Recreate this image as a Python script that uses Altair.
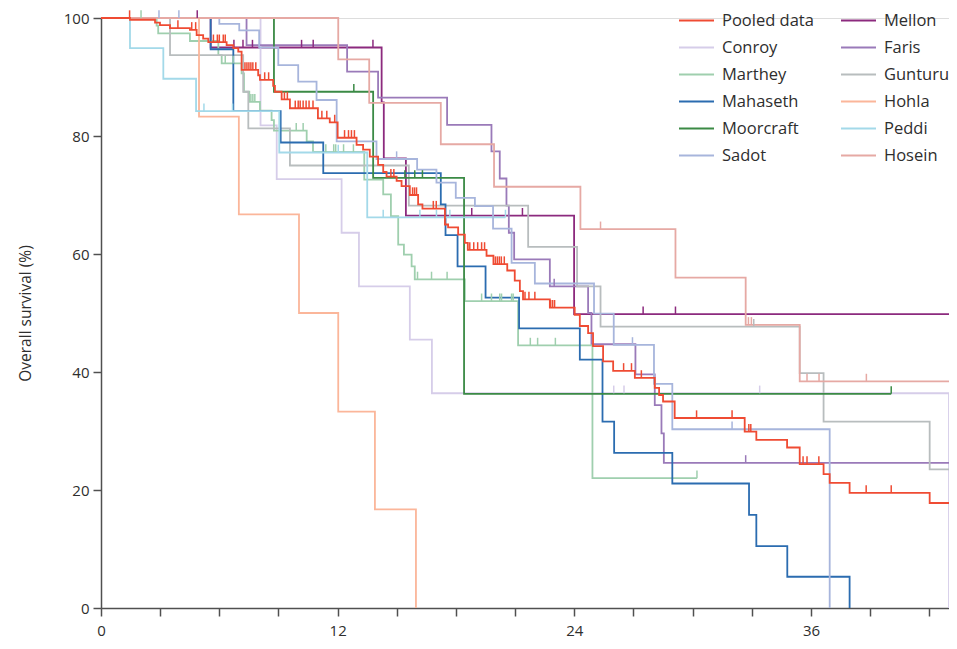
import altair as alt
import pandas as pd

# ---------------- data (months, overall survival %) ----------------
series_order = ["Pooled data", "Conroy", "Marthey", "Mahaseth", "Moorcraft", "Sadot",
                "Mellon", "Faris", "Gunturu", "Hohla", "Peddi", "Hosein"]
series_colors = ["#ef4b33", "#d6cde9", "#9fcfae", "#2b6cb0", "#3b8a45", "#a7b5dc",
                 "#8c2a7e", "#9a7ab9", "#b8bdbe", "#fbb69a", "#a3d9e9", "#e6a9a4"]

pooled_steps = [(0, 100), (1.47, 99.7), (2.74, 99.2), (2.99, 98.8), (3.5, 98.3), (4.51, 98.0),
                (4.85, 97.1), (5.18, 96.5), (5.44, 95.9), (6.37, 95.4), (6.71, 94.9), (6.96, 94.3),
                (7.13, 91.2), (7.97, 90.3), (8.06, 89.5), (8.73, 88.5), (8.82, 87.5), (9.16, 86.2),
                (9.58, 84.7), (11.0, 83.0), (11.6, 82.3), (12.0, 79.7), (12.96, 78.5), (13.29, 77.7),
                (13.63, 76.5), (14.05, 75.1), (14.31, 73.9), (14.48, 73.1), (14.99, 72.4),
                (15.24, 71.5), (15.66, 70.0), (16.08, 68.4), (16.3, 67.7), (17.44, 65.0),
                (17.6, 64.5), (18.11, 63.3), (18.45, 61.9), (18.6, 60.7), (19.55, 59.7),
                (19.9, 58.3), (20.6, 57.2), (20.98, 55.5), (21.24, 53.7), (21.4, 52.3),
                (22.76, 50.9), (24.02, 49.7), (24.28, 47.8), (24.7, 46.6), (24.95, 44.4),
                (25.46, 41.8), (25.97, 40.2), (27.07, 39.0), (28.08, 37.3), (28.3, 36.1),
                (28.5, 35.0), (29.09, 32.2), (32.64, 29.9), (33.23, 28.5), (34.79, 27.2),
                (35.43, 24.4), (36.64, 22.7), (36.95, 21.2), (37.96, 19.5), (42.02, 17.8), (43.0, 17.8)]
pooled_cens = [1.45, 3.9, 4.6, 4.8, 5.7, 5.9, 6.0, 6.2, 6.3, 7.3, 7.4, 7.5, 7.6, 7.7, 7.85, 8.3, 8.5,
               9.3, 9.45, 9.85, 10.0, 10.1, 10.25, 10.4, 10.55, 10.75, 11.2, 11.45, 11.85, 12.35,
               12.55, 12.7, 12.85, 14.7, 14.85, 15.8, 15.9, 16.0, 16.85, 17.0, 18.7, 18.9, 19.1,
               19.3, 19.45, 20.0, 20.1, 20.2, 20.3, 20.45, 21.5, 21.7, 22.0, 22.8, 22.9, 23.0,
               26.5, 26.9, 27.4, 30.2, 32.0, 32.85, 32.95, 35.6, 35.8, 36.4, 38.8, 40.07]

mellon_steps = [(0, 100), (5.56, 95.0), (14.23, 85.7), (14.34, 76.2), (15.46, 66.5),
                (23.99, 49.8), (43.0, 49.8)]
mellon_cens = [4.88, 6.74, 7.2, 7.68, 10.17, 10.76, 13.79, 18.8, 21.37, 27.49, 29.13]

conroy_steps = [(0, 100), (8.09, 81.8), (8.91, 72.7), (12.2, 63.6), (13.08, 54.5),
                (15.66, 45.5), (16.78, 36.4), (43.0, 0)]
conroy_cens = [26.0, 26.52, 33.4]

faris_steps = [(0, 100), (7.38, 95.4), (12.48, 90.9), (14.05, 86.5), (17.55, 81.9),
               (19.8, 77.4), (20.22, 72.8), (20.56, 68.2), (20.68, 63.6), (20.95, 59.1),
               (22.76, 54.5), (24.7, 50.0), (24.87, 44.7), (27.1, 39.6), (28.08, 34.4),
               (28.42, 29.6), (28.54, 24.6), (43.0, 24.6)]
faris_cens = [22.98, 32.69]

marthey_steps = [(0, 100), (2.82, 98.7), (2.9, 97.4), (4.51, 96.1), (5.95, 93.7), (6.12, 92.3),
                 (7.13, 90.6), (7.25, 87.5), (7.52, 85.8), (8.06, 84.3), (8.65, 82.7),
                 (8.77, 80.9), (10.43, 79.1), (10.75, 77.3), (13.35, 72.6), (14.31, 70.1),
                 (14.7, 66.4), (15.07, 61.6), (15.36, 59.9), (15.75, 57.9), (15.91, 55.7),
                 (18.45, 52.0), (21.15, 44.5), (24.92, 22.0), (30.22, 22.0)]
marthey_cens = [2.03, 6.3, 6.7, 7.6, 7.7, 7.8, 9.9, 10.25, 11.4, 11.8, 11.9, 12.3, 12.8,
                16.05, 16.76, 17.55, 19.3, 19.8, 20.22, 20.31, 20.82, 20.9, 21.77, 22.14,
                23.04, 30.22]

gunturu_steps = [(0, 100), (3.5, 93.7), (7.21, 87.5), (7.47, 81.3), (9.58, 75.0), (15.61, 68.2),
                 (21.66, 61.2), (24.14, 54.5), (25.33, 47.7), (35.43, 39.8), (36.64, 31.6),
                 (42.02, 23.5), (43.0, 23.5)]
gunturu_cens = [33.1]

mahaseth_steps = [(0, 100), (5.56, 94.7), (6.71, 84.2), (9.11, 78.9), (11.27, 73.7),
                  (17.23, 68.4), (17.47, 63.2), (18.08, 57.9), (19.5, 52.6), (21.2, 47.4),
                  (24.28, 42.1), (25.43, 31.6), (26.02, 26.3), (28.97, 21.1), (32.86, 15.8),
                  (33.23, 10.5), (34.8, 5.3), (37.96, 0)]
mahaseth_cens = []

hohla_steps = [(0, 100), (4.97, 83.3), (6.99, 66.7), (10.04, 50.0), (12.03, 33.3),
               (13.89, 16.7), (15.97, 0)]
hohla_cens = []

moorcraft_steps = [(0, 100), (8.77, 87.5), (13.8, 72.9), (18.41, 36.3), (40.07, 36.3)]
moorcraft_cens = [12.82, 15.41, 15.91, 16.3, 40.07]

peddi_steps = [(0, 100), (1.47, 94.9), (3.16, 89.7), (4.82, 84.2), (9.04, 77.2),
               (13.5, 66.2), (20.51, 66.2)]
peddi_cens = [5.22, 6.67, 12.03, 14.31, 16.17, 17.01, 17.69, 20.51]

sadot_steps = [(0, 100), (6.0, 99.0), (7.01, 97.9), (8.02, 95.0), (8.99, 92.0), (10.0, 89.2),
               (10.93, 86.1), (11.95, 79.1), (13.97, 76.1), (16.03, 74.3), (17.01, 72.1),
               (17.99, 69.5), (18.96, 68.1), (19.88, 64.3), (20.82, 58.5), (22.0, 55.0),
               (25.0, 49.9), (26.0, 44.6), (28.04, 38.0), (28.97, 30.3), (36.95, 0)]
sadot_cens = [2.94, 3.95, 14.99, 26.95, 32.0]

hosein_steps = [(0, 100), (12.03, 93.0), (13.6, 85.6), (17.23, 78.6), (19.93, 71.4),
                (24.31, 64.2), (29.13, 56.0), (32.69, 48.0), (35.43, 38.4), (43.0, 38.4)]
hosein_cens = [25.33, 32.83, 32.98, 35.8, 36.41, 38.81]

x_ticks = list(range(0, 43, 3))
y_ticks = [0, 20, 40, 60, 80, 100]

all_series = {
    "Pooled data": (pooled_steps, pooled_cens),
    "Mellon": (mellon_steps, mellon_cens),
    "Conroy": (conroy_steps, conroy_cens),
    "Faris": (faris_steps, faris_cens),
    "Marthey": (marthey_steps, marthey_cens),
    "Gunturu": (gunturu_steps, gunturu_cens),
    "Mahaseth": (mahaseth_steps, mahaseth_cens),
    "Hohla": (hohla_steps, hohla_cens),
    "Moorcraft": (moorcraft_steps, moorcraft_cens),
    "Peddi": (peddi_steps, peddi_cens),
    "Sadot": (sadot_steps, sadot_cens),
    "Hosein": (hosein_steps, hosein_cens),
}


def level_at(steps, t):
    v = steps[0][1]
    for tt, ss in steps:
        if tt <= t:
            v = ss
        else:
            break
    return v


line_rows, cens_rows = [], []
for name, (steps, cens) in all_series.items():
    for i, (t, s) in enumerate(steps):
        line_rows.append({"series": name, "t": t, "s": s, "o": i})
    for t in cens:
        cens_rows.append({"series": name, "t": t, "s": level_at(steps, t)})

lines_df = pd.DataFrame(line_rows)
cens_df = pd.DataFrame(cens_rows)

FONT = "Open Sans"
TXT = "#2e2e2e"
AX = "#505050"

color = alt.Color(
    "series:N",
    scale=alt.Scale(domain=series_order, range=series_colors),
    legend=alt.Legend(
        orient="none", legendX=577, legendY=-6, direction="vertical", columns=2,
        title=None, symbolType="stroke", symbolSize=1225, symbolStrokeWidth=2,
        labelFontSize=16.5, labelFont=FONT, labelColor=TXT, labelOffset=7,
        rowPadding=10, columnPadding=26, clipHeight=17, padding=0, labelLimit=0,
    ),
)

x_enc = alt.X(
    "t:Q",
    scale=alt.Scale(domain=[0, 43], nice=False, zero=True),
    axis=alt.Axis(
        values=x_ticks, labelExpr="datum.value % 12 === 0 ? datum.label : ''",
        title=None, grid=False, tickSize=8, tickWidth=1.5, tickColor=AX,
        domainColor=AX, domainWidth=1.5, labelFontSize=15, labelFont=FONT,
        labelColor=TXT, labelPadding=7, labelFlush=False,
    ),
)
y_enc = alt.Y(
    "s:Q",
    scale=alt.Scale(domain=[0, 100], nice=False),
    axis=alt.Axis(
        values=y_ticks, title="Overall survival (%)", grid=False, tickSize=8,
        tickWidth=1.5, tickColor=AX, domainColor=AX, domainWidth=1.5,
        labelFontSize=15, labelFont=FONT, labelColor=TXT, labelPadding=4,
        titleFont=FONT, titleFontSize=15.5, titleFontWeight="normal", titleColor=TXT,
        titlePadding=30,
    ),
)

base_line = alt.Chart(lines_df).mark_line(interpolate="step-after", strokeWidth=1.8).encode(
    x=x_enc, y=y_enc, color=color, order="o:Q", detail="series:N"
)
base_cens = alt.Chart(cens_df).transform_calculate(top="datum.s + 1.3").mark_rule(
    strokeWidth=1.5
).encode(x="t:Q", y="s:Q", y2="top:Q", color=color)

others = alt.datum.series != "Pooled data"
pooled = alt.datum.series == "Pooled data"

chart = alt.layer(
    base_line.transform_filter(others),
    base_cens.transform_filter(others),
    base_line.transform_filter(pooled),
    base_cens.transform_filter(pooled),
).properties(
    width=848, height=590,
    autosize=alt.AutoSizeParams(type="none"),
    padding={"left": 93, "top": 10, "right": 0, "bottom": 32},
).configure_view(stroke=None).configure(font=FONT)

chart.save("out.html", embed_options={"renderer": "svg", "actions": False})
